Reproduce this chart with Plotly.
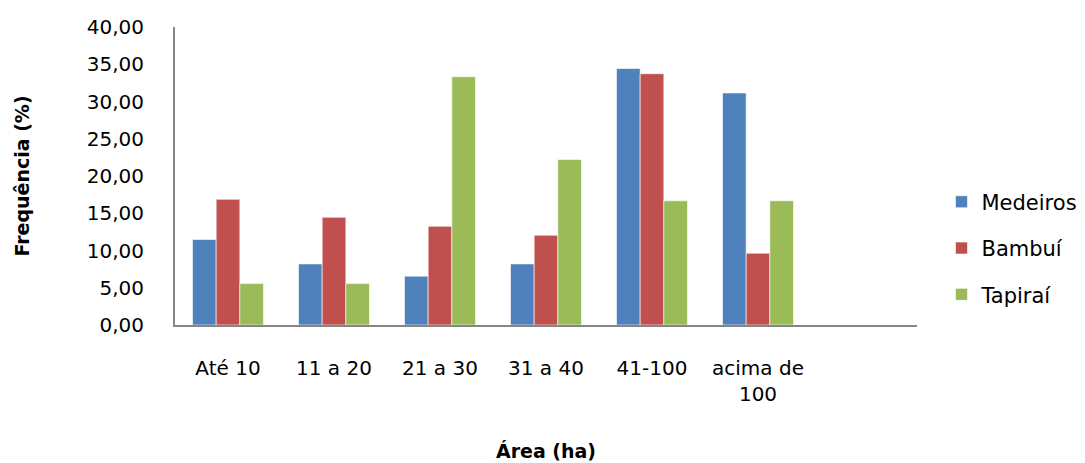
import plotly.graph_objects as go

categories = ["Até 10", "11 a 20", "21 a 30", "31 a 40", "41-100", "acima de<br>100"]
medeiros = [11.48, 8.20, 6.56, 8.20, 34.43, 31.15]
bambui = [16.87, 14.46, 13.25, 12.05, 33.73, 9.64]
tapirai = [5.56, 5.56, 33.33, 22.22, 16.67, 16.67]
series_names = ["Medeiros", "Bambuí", "Tapiraí"]
colors = ["#4F81BD", "#C0504D", "#9BBB59"]

FONT = "DejaVu Sans"
fig = go.Figure()
for name, vals, col in zip(series_names, [medeiros, bambui, tapirai], colors):
    fig.add_trace(go.Bar(
        x=categories, y=vals, name=name, legendgroup=name,
        marker=dict(color=col, line=dict(color="rgba(255,255,255,0.6)", width=1)),
    ))

fig.update_layout(
    width=1085, height=463,
    margin=dict(l=175, r=168, t=27, b=138, autoexpand=False),
    paper_bgcolor="white", plot_bgcolor="white",
    barmode="group", bargap=0.33, bargroupgap=0,
    separators=",.",
    font=dict(family=FONT, size=20, color="#000000"),
    legend=dict(
        x=1.033, xanchor="left", y=0.258, yanchor="middle",
        font=dict(family=FONT, size=21, color="#000000"),
        tracegroupgap=16, traceorder="grouped",
        bgcolor="rgba(0,0,0,0)",
    ),
    xaxis=dict(
        type="category", range=[-0.5, 6.5], automargin=False,
        showline=True, linecolor="#868686", linewidth=2,
        ticks="", showgrid=False, zeroline=False,
        ticklabelstandoff=24,
        tickfont=dict(family=FONT, size=20, color="#000000"),
        title=dict(text="<b>Área (ha)</b>", font=dict(family=FONT, size=19, color="#000000"), standoff=40),
    ),
    yaxis=dict(
        range=[0, 40], dtick=5, tick0=0, tickformat=".2f", automargin=False,
        showline=True, linecolor="#868686", linewidth=2,
        ticks="", showgrid=False, zeroline=False,
        ticklabelstandoff=25,
        tickfont=dict(family=FONT, size=20, color="#000000"),
        title=dict(text="<b>Frequência (%)</b>", font=dict(family=FONT, size=19, color="#000000"), standoff=52),
    ),
)

fig.write_html("out.html")
